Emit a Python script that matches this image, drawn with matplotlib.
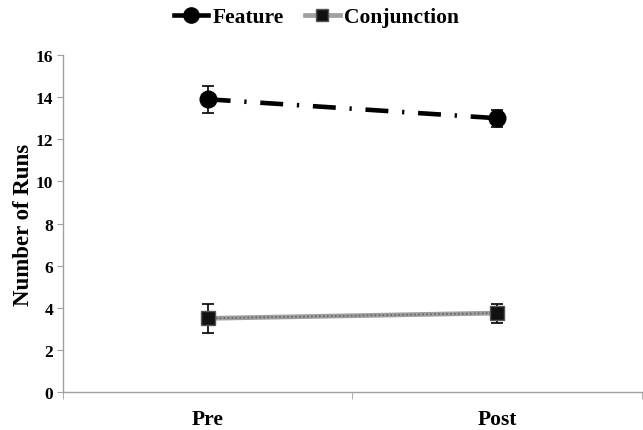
import matplotlib
matplotlib.use("Agg")
import matplotlib.pyplot as plt
from matplotlib.lines import Line2D

# Mean number of runs per session, with error bars
sessions = ["Pre", "Post"]
feature = [13.9, 13.0]
feature_err = [0.65, 0.4]
conjunction = [3.5, 3.75]
conjunction_err = [0.7, 0.45]

plt.rcParams['font.family'] = ['Liberation Serif', 'DejaVu Serif']
plt.rcParams['font.weight'] = 'bold'

fig = plt.figure(figsize=(6.43, 4.31), dpi=100)
ax = fig.add_axes([0.098, 0.088, 0.9, 0.782])

x = list(range(len(sessions)))

# Feature: thick black dash-dot line with circle markers
ax.plot(x, feature, color='black', lw=3.3, linestyle=(0, (5, 3, 0.5, 3)),
        zorder=2)
ax.errorbar(x, feature, yerr=feature_err, fmt='o', color='black', ms=12,
            ecolor='black', elinewidth=1.2, capsize=4, capthick=1.2, zorder=3)

# Conjunction: gray textured line with square markers
ax.plot(x, conjunction, color='#a0a0a0', lw=3.4, zorder=2)
ax.plot(x, conjunction, color='#6a6a6a', lw=1.3, linestyle=(0, (1, 1.2)),
        zorder=2)
ax.errorbar(x, conjunction, yerr=conjunction_err, fmt='s', color='#111111',
            mec='#555555', ms=9.5, ecolor='black', elinewidth=1.2, capsize=4,
            capthick=1.2, zorder=3)

ax.set_xlim(-0.5, len(sessions) - 0.5)
ax.set_ylim(0, 16)
ax.set_yticks(range(0, 17, 2))
ax.set_yticklabels([str(v) for v in range(0, 17, 2)], fontsize=12.5,
                   fontweight='bold')
ax.set_xticks(x)
ax.set_xticklabels(sessions, fontsize=15.5, fontweight='bold')
ax.tick_params(axis='x', length=0, pad=12)
ax.set_xticks([i - 0.5 for i in range(len(sessions) + 1)], minor=True)
ax.tick_params(axis='x', which='minor', length=5, color='#a0a0a0',
               direction='out')
ax.tick_params(axis='y', length=4, color='#a0a0a0', pad=3)

for side in ['top', 'right']:
    ax.spines[side].set_visible(False)
for side in ['left', 'bottom']:
    ax.spines[side].set_color('#a0a0a0')
    ax.spines[side].set_linewidth(1.0)

ax.set_ylabel("Number of Runs", fontsize=16.5, fontweight='bold', labelpad=1)

handles = [
    Line2D([], [], color='black', lw=3.3, marker='o', ms=11),
    Line2D([], [], color='#a0a0a0', lw=3.4, marker='s', ms=9,
           mfc='#111111', mec='#555555'),
]
fig.legend(handles, ["Feature", "Conjunction"], loc='center',
           bbox_to_anchor=(0.492, 0.958), ncol=2, frameon=False,
           prop={'family': 'Liberation Serif', 'weight': 'bold', 'size': 15.5},
           handlelength=1.6, handletextpad=0.2, columnspacing=1.0)

fig.savefig("out.png", dpi=100)
